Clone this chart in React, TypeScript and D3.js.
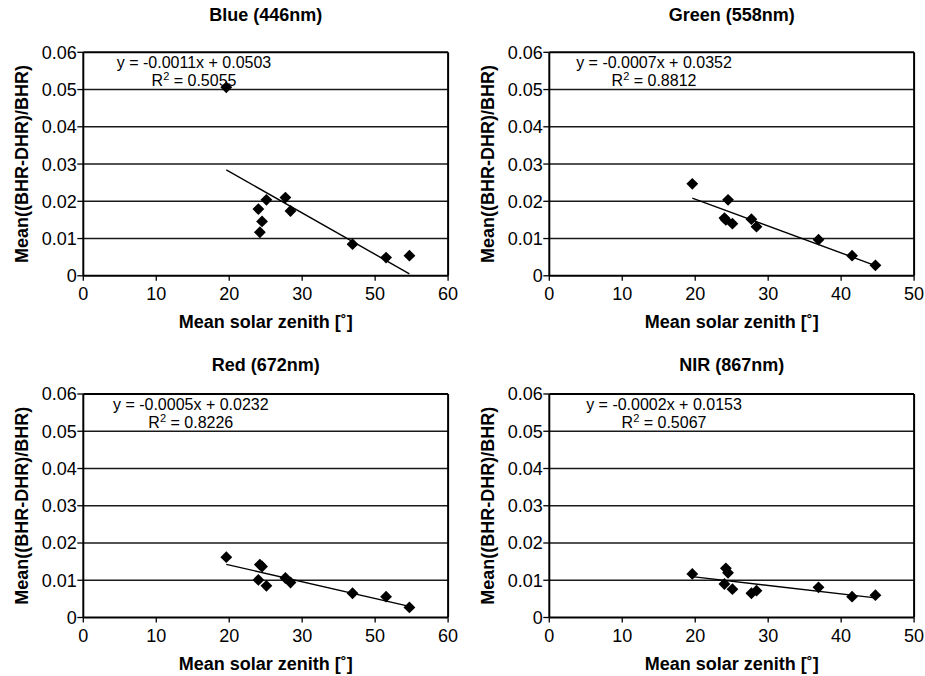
import React from "react";
import * as d3 from "d3";

// ---- data ----
const zenith = [19.6, 24.0, 24.2, 24.5, 25.1, 27.7, 28.4, 36.9, 41.5, 44.7];
const blueVals = [0.0506, 0.0179, 0.0117, 0.0146, 0.0204, 0.021, 0.0174, 0.0085, 0.0049, 0.0054];
const greenVals = [0.0247, 0.0155, 0.015, 0.0204, 0.014, 0.0152, 0.0132, 0.0097, 0.0054, 0.0028];
const redVals = [0.0162, 0.0101, 0.0142, 0.0137, 0.0085, 0.0106, 0.0094, 0.0065, 0.0056, 0.0027];
const nirVals = [0.0117, 0.009, 0.0132, 0.012, 0.0076, 0.0065, 0.0072, 0.0081, 0.0056, 0.006];

const titles = ["Blue (446nm)", "Green (558nm)", "Red (672nm)", "NIR (867nm)"];
const equations = [
  "y = -0.0011x + 0.0503",
  "y = -0.0007x + 0.0352",
  "y = -0.0005x + 0.0232",
  "y = -0.0002x + 0.0153",
];
const r2Values = ["0.5055", "0.8812", "0.8226", "0.5067"];

const xTickValues = [0, 10, 20, 30, 40, 50];
const xTickLabelsA = ["0", "10", "20", "30", "50", "60"]; // as printed on Blue/Red panels
const xTickLabelsB = ["0", "10", "20", "30", "40", "50"];
const yTickValues = [0, 0.01, 0.02, 0.03, 0.04, 0.05, 0.06];
const yTickLabels = ["0", "0.01", "0.02", "0.03", "0.04", "0.05", "0.06"];

const xLabel = "Mean solar zenith [˚]";
const yLabel = "Mean((BHR-DHR)/BHR)";

// ---- layout ----
const W = 925;
const H = 676;
const colLeft = [83.3, 549.3];
const rowTop = [52.3, 394];
const plotW = 364.8;
const plotH = 223.5;
const titleBase = [21, 371];
const eqDx = [110.7, 104.7, 107.5, 114.7];
const FONT = "'Liberation Sans', Arial, Helvetica, sans-serif";

const series = [blueVals, greenVals, redVals, nirVals];
const tickLabelSets = [xTickLabelsA, xTickLabelsB, xTickLabelsA, xTickLabelsB];

function regression(xs: number[], ys: number[]) {
  const mx = d3.mean(xs) as number;
  const my = d3.mean(ys) as number;
  let sxy = 0;
  let sxx = 0;
  xs.forEach((x, i) => {
    sxy += (x - mx) * (ys[i] - my);
    sxx += (x - mx) * (x - mx);
  });
  const slope = sxy / sxx;
  return { slope, intercept: my - slope * mx };
}

function Panel({ idx }: { idx: number }) {
  const left = colLeft[idx % 2];
  const top = rowTop[Math.floor(idx / 2)];
  const x = d3.scaleLinear().domain([0, 50]).range([left, left + plotW]);
  const y = d3.scaleLinear().domain([0, 0.06]).range([top + plotH, top]);
  const vals = series[idx];
  const pts = zenith.map((z, i) => ({ z, v: vals[i] }));
  const reg = regression(zenith, vals);
  const x0 = d3.min(zenith) as number;
  const x1 = d3.max(zenith) as number;
  const line = d3
    .line<number>()
    .x((d) => x(d))
    .y((d) => y(reg.intercept + reg.slope * d));
  const diamond = d3.symbol(d3.symbolSquare, 70)() as string;
  const bottom = top + plotH;
  const right = left + plotW;
  const cx = left + plotW / 2;
  const cy = top + plotH / 2;
  const labels = tickLabelSets[idx];

  return (
    <g fontFamily={FONT} fill="#000">
      <text x={cx} y={titleBase[Math.floor(idx / 2)]} textAnchor="middle" fontSize={18} fontWeight="bold">
        {titles[idx]}
      </text>
      {/* grid lines */}
      {yTickValues.slice(1, -1).map((t) => (
        <line key={t} x1={left} x2={right} y1={y(t)} y2={y(t)} stroke="#1a1a1a" strokeWidth={1.4} />
      ))}
      {/* border */}
      <line x1={left} x2={right} y1={top} y2={top} stroke="#000" strokeWidth={2} />
      <line x1={right} x2={right} y1={top} y2={bottom} stroke="#000" strokeWidth={2} />
      <line x1={left} x2={left} y1={top} y2={bottom} stroke="#000" strokeWidth={2} />
      <line x1={left} x2={right} y1={bottom} y2={bottom} stroke="#000" strokeWidth={2} />
      {/* y ticks */}
      {yTickValues.map((t, i) => (
        <g key={t}>
          <line x1={left - 6} x2={left} y1={y(t)} y2={y(t)} stroke="#000" strokeWidth={1.3} />
          <text x={left - 6.5} y={y(t)} dy="0.36em" textAnchor="end" fontSize={18}>
            {yTickLabels[i]}
          </text>
        </g>
      ))}
      {/* x ticks */}
      {xTickValues.map((t, i) => (
        <g key={t}>
          <line x1={x(t)} x2={x(t)} y1={bottom} y2={bottom + 5} stroke="#000" strokeWidth={1.3} />
          <text x={x(t)} y={bottom + 24} textAnchor="middle" fontSize={18}>
            {labels[i]}
          </text>
        </g>
      ))}
      <text x={cx} y={bottom + 52} textAnchor="middle" fontSize={18} fontWeight="bold">
        {xLabel}
      </text>
      <text
        transform={`translate(${left - 62},${cy}) rotate(-90)`}
        textAnchor="middle"
        dy="0.35em"
        fontSize={18}
        fontWeight="bold"
      >
        {yLabel}
      </text>
      {/* trend line */}
      <path d={line([x0, x1]) as string} stroke="#000" strokeWidth={1.4} fill="none" />
      {/* points */}
      {pts.map((p, i) => (
        <path key={i} d={diamond} transform={`translate(${x(p.z)},${y(p.v)}) rotate(45)`} fill="#000" />
      ))}
      {/* equation */}
      <text x={left + eqDx[idx]} y={top + 15.5} textAnchor="middle" fontSize={16}>
        {equations[idx]}
      </text>
      <text x={left + eqDx[idx]} y={top + 33.5} textAnchor="middle" fontSize={16}>
        R<tspan fontSize={11} dy={-6}>2</tspan>
        <tspan dy={6}>{" = " + r2Values[idx]}</tspan>
      </text>
    </g>
  );
}

export default function App() {
  return (
    <svg
      width={W}
      height={H}
      viewBox={`0 0 ${W} ${H}`}
      style={{ position: "absolute", left: 0, top: 0, background: "#fff" }}
    >
      <rect width={W} height={H} fill="#fff" />
      {[0, 1, 2, 3].map((i) => (
        <Panel key={i} idx={i} />
      ))}
    </svg>
  );
}
